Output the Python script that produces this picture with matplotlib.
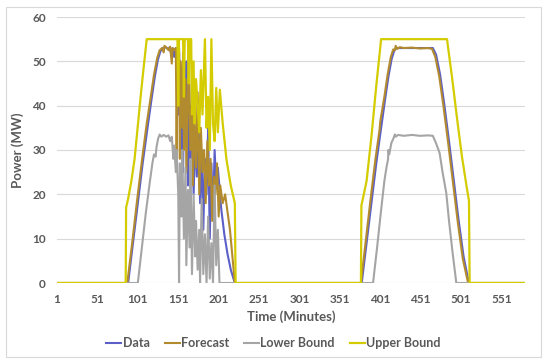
import matplotlib.pyplot as plt
from matplotlib.patches import Rectangle

# vertices: minute, MW
data_t = [1, 89, 95, 101, 107, 113, 118, 122, 126, 129, 132, 135, 138, 140, 142, 144, 146, 148,
          149, 150, 151, 152, 153, 154, 155, 157, 158, 160, 161, 163, 165, 166, 168, 170, 172, 174,
          176, 178, 180, 182, 184, 186, 188, 190, 192, 194, 196, 198, 200, 204, 208, 212, 216, 221,
          378, 384, 390, 396, 402, 407, 411, 415, 418, 421, 466, 470, 475, 480, 486, 492, 498, 504,
          510, 511, 580]
data_v = [0, 0, 9, 18, 27, 35, 41.5, 46.5, 50.5, 52.3, 53, 53.2, 52.8, 53.1, 52, 53, 51, 53,
          47, 53, 38, 52, 45, 30, 48, 25, 44, 35, 50, 22, 40, 28, 45, 20, 33, 24,
          38, 18, 30, 12, 28, 20, 35, 10, 27, 15, 30, 22, 26, 17, 11, 6.5, 3, 0,
          0, 9, 18, 27, 35, 41.5, 46.5, 50.5, 52.3, 53, 53, 51.5, 47, 40.5, 32, 23, 14, 6,
          0.5, 0, 0]

fc_t = [1, 88, 94, 100, 106, 112, 117, 121, 125, 128, 131, 133, 134, 137, 139, 141, 143, 144, 146, 148,
        149, 150, 151, 152, 153, 154, 156, 157, 158, 160, 161, 163, 164, 166, 168, 169, 171, 173,
        175, 177, 179, 181, 183, 185, 187, 189, 191, 193, 195, 197, 199, 201, 203, 206, 209, 212,
        215, 218, 221,
        377, 383, 389, 395, 400, 401, 406, 410, 414, 417, 419, 420, 422, 425, 430, 440, 450, 460,
        465, 469, 474, 479, 485, 491, 497, 503, 509, 510, 580]
fc_v = [0, 0, 9, 18.5, 27.5, 36, 42, 47, 50.8, 52.5, 53, 52, 53.5, 53, 52.5, 53.3, 49.5, 53, 52.5, 53,
        30, 50, 44, 53, 28, 50, 35, 52, 30, 46, 25, 42, 52, 30, 40, 22, 38, 26,
        43, 20, 35, 25, 30, 18, 32, 22, 28, 14, 24, 20, 27, 15, 22, 18, 20, 16,
        12, 6, 0,
        0, 9.5, 19, 28, 34.5, 36.5, 42, 47, 51, 52.7, 52.5, 53.5, 52.8, 53.2, 53, 53.1, 52.9, 53,
        52.8, 51, 46.5, 40, 31.5, 22.5, 13.5, 5.5, 0.5, 0, 0]

low_t = [1, 101, 106, 111, 116, 119, 121, 123, 124, 126, 128, 130, 133, 136, 139, 141, 143, 145,
         146, 148, 149, 151, 152, 153, 155, 156, 158, 160, 161, 163, 165, 166, 168, 170, 172, 173,
         175, 177, 178, 180, 182, 184, 186, 188, 190, 192, 194, 196, 198, 200, 202,
         392, 397, 402, 406, 409, 410.5, 411, 412, 414.7, 417, 419, 420, 423, 430, 440, 450, 460,
         466, 470, 474.4, 478, 482.6, 486, 490, 495, 580]
low_v = [0, 0, 8, 16, 23, 27, 29, 28.5, 30.5, 32.5, 33.5, 33, 33.4, 33, 33.3, 32, 33, 28,
         31, 25, 30, 20, 0, 27, 15, 30, 10, 26, 4, 21, 8, 28, 2, 20, 6, 14,
         3, 12, 0, 19, 2, 11, 0, 15, 1, 9, 0, 22, 4, 12, 0,
         0, 8, 16.5, 23, 26.5, 27.8, 30, 29, 31.6, 32.5, 33.5, 33, 33.4, 33.2, 33.4, 33.2, 33.3,
         33.2, 31.5, 29.3, 25, 20.3, 14, 7.5, 0, 0]

up_t = [1, 86, 86.5, 89, 93, 97, 101, 105, 109, 112, 150, 151, 152, 157, 158, 159, 163, 164, 165,
        167, 168, 170, 171, 173, 175, 177, 179, 181, 184, 186, 188, 190, 192, 194, 196, 198, 200,
        202.5, 206, 210.7, 216, 221, 222,
        377, 377.6, 380, 384, 390, 396, 402, 483.5, 490, 496, 502, 508, 510.7, 511.5, 580]
up_v = [0, 0, 17, 19, 23, 28, 35.5, 43, 50, 55, 55, 40, 55, 55, 42, 55, 55, 45, 55,
        55, 38, 50, 36, 46, 40, 34, 48, 38, 55, 35, 42, 30, 55, 36, 32, 44, 34,
        43.6, 36, 27.8, 22, 18, 0,
        0, 17.5, 19.5, 23, 33, 44.5, 55, 55, 46, 37, 28.5, 21.5, 18.5, 0, 0]

xticks = list(range(1, 552, 50))

plt.rcParams['font.family'] = ['Lato', 'DejaVu Sans']
fig = plt.figure(figsize=(5.5, 3.64), dpi=100)
ax = fig.add_axes([57 / 550, (364 - 283) / 364, (525 - 57) / 550, 266 / 364])

# light chart-area border like Excel
fig.patches.append(Rectangle((6 / 550, 7 / 364), 535 / 550, 350 / 364, transform=fig.transFigure,
                             fill=False, edgecolor='#d9d9d9', linewidth=0.8))

ax.plot(data_t, data_v, color='#5b5fc7', lw=1.5, label='Data')
ax.plot(fc_t, fc_v, color='#b38b2f', lw=1.5, label='Forecast')
ax.plot(low_t, low_v, color='#a5a5a5', lw=1.5, label='Lower Bound')
ax.plot(up_t, up_v, color='#d4cc00', lw=1.6, label='Upper Bound')

ax.set_xlim(1, 580)
ax.set_ylim(0, 60)
ax.set_yticks(range(0, 61, 10))
ax.set_xticks(xticks)
ax.set_xticklabels([str(t) for t in xticks])
ax.grid(axis='y', color='#d9d9d9', lw=0.8)
ax.set_axisbelow(True)
for s in ax.spines.values():
    s.set_visible(False)
ax.tick_params(length=0, labelsize=8.5, labelcolor='#595959', pad=8)
for lab in ax.get_xticklabels() + ax.get_yticklabels():
    lab.set_fontweight('bold')

ax.set_xlabel('Time (Minutes)', fontsize=9.5, fontweight='bold', color='#595959', labelpad=4)
ax.set_ylabel('Power (MW)', fontsize=9.5, fontweight='bold', color='#595959', labelpad=6)

leg = fig.legend(loc='center', bbox_to_anchor=(273.5 / 550, 1 - 343 / 364), ncol=4, frameon=False,
                 fontsize=9, handlelength=1.2, handletextpad=0.1, columnspacing=1.2)
for t in leg.get_texts():
    t.set_color('#595959')
    t.set_fontweight('bold')

fig.savefig('out.png', dpi=100)
